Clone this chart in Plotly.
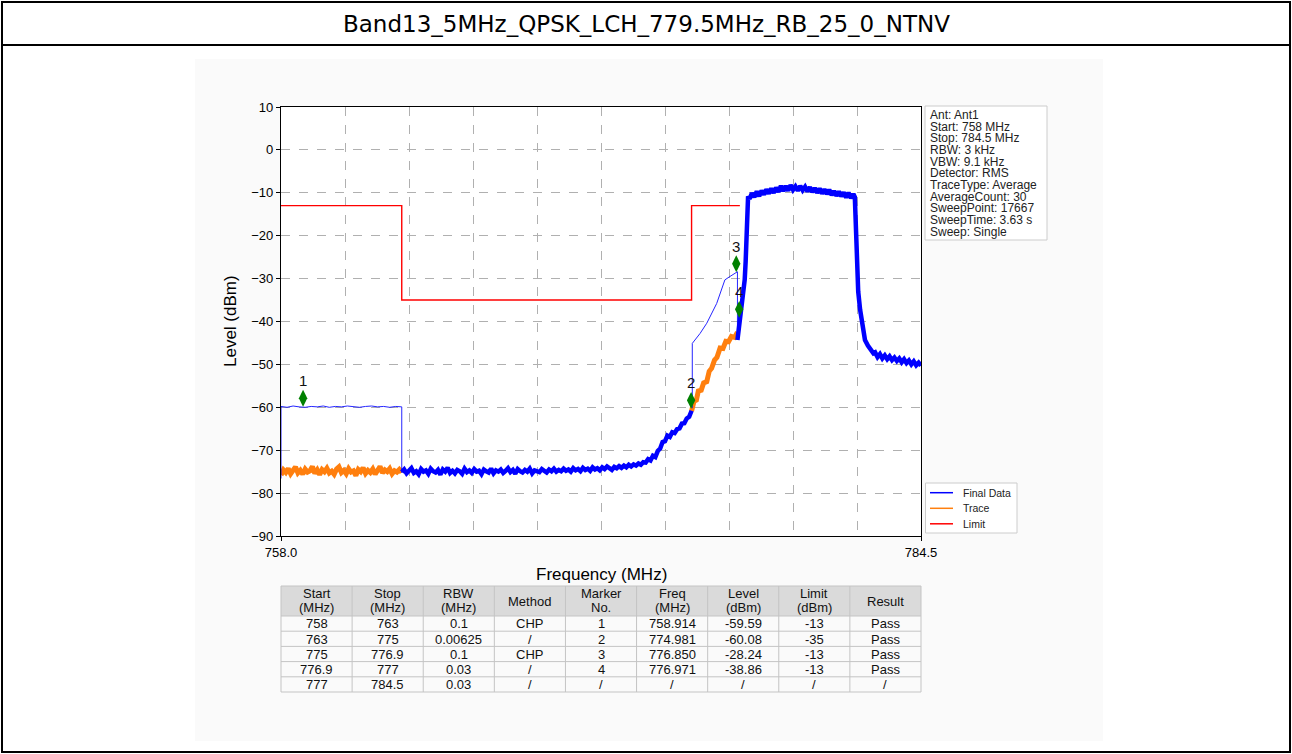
import numpy as np
import plotly.graph_objects as go

W, H = 1292, 754

# ---------------- data ----------------
TITLE = "Band13_5MHz_QPSK_LCH_779.5MHz_RB_25_0_NTNV"
F_START, F_STOP = 758.0, 784.5

# Trace (orange), 758 - 763 MHz noise floor
trace_left_vals = [
    -75.8, -74.6, -75.2, -74.3, -75.5, -74.9, -73.9, -75.3, -74.7, -75.6,
    -74.4, -75.1, -74.8, -73.8, -75.4, -74.6, -75.7, -74.5, -75.0, -74.2,
    -75.3, -74.9, -75.6, -74.4, -73.9, -75.2, -74.7, -75.5, -74.3, -75.1,
    -74.8, -75.9, -74.5, -75.0, -74.1, -75.4, -74.7, -75.2, -74.4, -75.6,
    -74.9, -73.8, -75.3, -74.6, -75.0, -74.3, -75.5, -74.8, -75.1, -74.5,
    -75.2]
# Trace (orange), 775 - 776.9 MHz
trace_right_freq = [775.0, 775.1, 775.2, 775.28, 775.4, 775.5, 775.63, 775.73, 775.83,
                    775.95, 776.05, 776.18, 776.3, 776.42, 776.53, 776.65, 776.78, 776.9]
trace_right_vals = [-60.9, -58.6, -58.3, -56.2, -56.0, -54.3, -54.0, -51.6, -50.9,
                    -49.0, -48.4, -46.2, -46.3, -44.6, -44.7, -43.5, -43.7, -42.5]

# Final Data (blue), 763 - 775 MHz
final_mid_vals = [
    -75.1, -74.5, -75.4, -74.8, -74.2, -75.3, -74.9, -75.6, -74.4, -75.0,
    -74.7, -75.5, -74.3, -74.9, -75.2, -74.6, -75.7, -74.5, -75.0, -74.1,
    -75.3, -74.8, -75.4, -74.6, -74.9, -75.5, -74.3, -75.1, -74.7, -75.3,
    -74.4, -75.0, -74.8, -75.6, -74.5, -74.9, -75.2, -74.3, -75.4, -74.7,
    -75.0, -74.5, -75.3, -74.8, -74.2, -75.1, -74.6, -75.5, -74.4, -74.9,
    -75.2, -74.6, -75.0, -74.3, -75.4, -74.7, -74.9, -75.1, -74.4, -74.8,
    -75.2, -74.5, -74.9, -74.3, -75.0, -74.6,
    -74.9, -74.3, -74.8, -74.5, -75.0, -74.2, -74.7, -74.4, -74.9, -74.1,
    -74.6, -74.3, -74.8, -74.0, -74.5, -74.2, -74.7, -74.0, -74.4, -73.8,
    -74.3, -74.6, -73.9, -74.2, -73.7, -74.1, -73.6, -74.0, -73.4, -73.8,
    -73.3, -73.6, -73.1, -73.4, -72.8,
    -72.9, -72.1, -72.4, -71.3, -71.6, -70.2, -69.6, -68.1, -67.9, -66.6,
    -66.9, -65.8, -66.0, -65.1, -64.9, -63.8, -63.7, -62.6, -62.2, -60.8]

# Final Data (blue), 776.9 - 784.5 MHz: rising edge, plateau, falling edge, tail
final_rise_freq = [776.90, 776.95, 777.00, 777.06, 777.13, 777.20, 777.24, 777.27, 777.31, 777.34]
final_rise_vals = [-44.3, -42.0, -39.6, -37.3, -34.0, -30.3, -26.0, -22.5, -14.8, -10.8]
final_plateau_vals = [
    -11.4, -10.1, -11.0, -9.7, -10.8, -9.5, -10.4, -9.2, -10.2, -9.0,
    -10.0, -8.8, -9.8, -8.4, -9.6, -8.4, -9.5, -8.2, -9.3, -8.5,
    -9.5, -8.4, -9.4, -8.6, -9.7, -8.7, -9.8, -8.9, -10.0, -9.0,
    -10.2, -9.2, -10.3, -9.3, -10.5, -9.6, -10.7, -9.7, -10.8, -9.9,
    -11.1, -10.0, -11.2, -10.3]
final_fall_freq = [781.76, 781.8, 781.84, 781.9, 781.98, 782.08, 782.18, 782.3, 782.42, 782.53]
final_fall_vals = [-11.0, -18.0, -28.0, -33.0, -37.3, -41.0, -44.3, -45.6, -46.8, -47.4]
final_tail_vals = [
    -47.2, -48.3, -47.6, -48.6, -47.9, -48.8, -48.1, -49.0, -48.4, -49.2,
    -48.6, -49.5, -48.8, -49.7, -49.1, -50.0, -49.3, -50.2, -49.6, -50.3]

# Final Data (blue) channel-power steps
chp1_vals = [-59.8, -60.0, -59.7, -59.9, -60.0, -59.8, -59.9, -59.7, -60.0, -59.8,
             -59.9, -59.7, -59.9, -60.0, -59.8, -59.7, -59.9, -59.8, -60.0, -59.8, -59.9]
chp3_freq = [775.03, 775.03, 775.35, 775.63, 776.04, 776.38, 776.59, 776.87, 776.9, 776.9]
chp3_vals = [-60.2, -45.1, -42.8, -40.4, -35.8, -30.3, -29.5, -28.4, -28.4, -44.0]

# Limit line
limit_freq = [758, 763, 763, 775, 775, 777]
limit_vals = [-13, -13, -35, -35, -13, -13]

# Markers
marker_no = ["1", "2", "3", "4"]
marker_freq = [758.914, 774.981, 776.850, 776.971]
marker_level = [-59.59, -60.08, -28.24, -38.86]
MARKER_DRAW_OFFSET = 1.7

# Info text
info_lines = ["Ant: Ant1", "Start: 758 MHz", "Stop: 784.5 MHz", "RBW: 3 kHz", "VBW: 9.1 kHz",
              "Detector: RMS", "TraceType: Average", "AverageCount: 30", "SweepPoint: 17667",
              "SweepTime: 3.63 s", "Sweep: Single"]

# Table
tbl_header = [["Start", "(MHz)"], ["Stop", "(MHz)"], ["RBW", "(MHz)"], ["Method"],
              ["Marker", "No."], ["Freq", "(MHz)"], ["Level", "(dBm)"], ["Limit", "(dBm)"],
              ["Result"]]
tbl_start = ["758", "763", "775", "776.9", "777"]
tbl_stop = ["763", "775", "776.9", "777", "784.5"]
tbl_rbw = ["0.1", "0.00625", "0.1", "0.03", "0.03"]
tbl_method = ["CHP", "/", "CHP", "/", "/"]
tbl_marker = ["1", "2", "3", "4", "/"]
tbl_freq = ["758.914", "774.981", "776.850", "776.971", "/"]
tbl_level = ["-59.59", "-60.08", "-28.24", "-38.86", "/"]
tbl_limit = ["-13", "-35", "-13", "-13", "/"]
tbl_result = ["Pass", "Pass", "Pass", "Pass", "/"]
tbl_columns = [tbl_start, tbl_stop, tbl_rbw, tbl_method, tbl_marker,
               tbl_freq, tbl_level, tbl_limit, tbl_result]

legend_names = ["Final Data", "Trace", "Limit"]
legend_colors = ["#0000ff", "#ff7f0e", "#ff0000"]

# ---------------- helpers ----------------
def px(x):
    return x / W

def py(y):
    return 1 - y / H

PL, PR, PT, PB = 281, 921, 107, 536
FONT = "Liberation Sans, Arial, sans-serif"

fig = go.Figure()

# Orange trace (thick noise)
o_x = list(np.linspace(758.0, 763.0, len(trace_left_vals))) + [None] + trace_right_freq
o_y = trace_left_vals + [None] + trace_right_vals
fig.add_trace(go.Scatter(x=o_x, y=o_y, mode="lines", line=dict(color="#ff7f0e", width=5),
                         showlegend=False, hoverinfo="skip"))

# Blue thick final data
b_x = (list(np.linspace(763.0, 775.0, len(final_mid_vals))) + [None]
       + final_rise_freq + list(np.linspace(777.4, 781.7, len(final_plateau_vals)))
       + final_fall_freq + list(np.linspace(782.6, 784.5, len(final_tail_vals))))
b_y = (final_mid_vals + [None] + final_rise_vals + final_plateau_vals
       + final_fall_vals + final_tail_vals)
fig.add_trace(go.Scatter(x=b_x, y=b_y, mode="lines", line=dict(color="#0000ff", width=4.5),
                         showlegend=False, hoverinfo="skip"))

# Blue thin CHP lines
c_x = [758.0] + list(np.linspace(758.0, 763.0, len(chp1_vals))) + [763.0, None] + chp3_freq
c_y = [-76.6] + chp1_vals + [-75.3, None] + chp3_vals
fig.add_trace(go.Scatter(x=c_x, y=c_y, mode="lines", line=dict(color="#0000ff", width=1),
                         opacity=0.85, showlegend=False, hoverinfo="skip"))

# Limit
fig.add_trace(go.Scatter(x=limit_freq, y=limit_vals, mode="lines",
                         line=dict(color="#ff0000", width=1.4), showlegend=False))

# Markers
fig.add_trace(go.Scatter(x=marker_freq, y=[v + MARKER_DRAW_OFFSET for v in marker_level],
                         mode="markers+text", text=marker_no, textposition="top center",
                         textfont=dict(family=FONT, size=15, color="#111111"),
                         marker=dict(symbol="diamond-tall", size=12, color="#008000"),
                         showlegend=False))

shapes = []
annotations = []
# light figure background and white plot area
shapes.append(dict(type="rect", xref="paper", yref="paper", x0=px(195), x1=px(1103),
                   y0=py(741), y1=py(59), fillcolor="#fafafa", line=dict(width=0), layer="below"))
shapes.append(dict(type="rect", xref="paper", yref="paper", x0=px(PL), x1=px(PR),
                   y0=py(PB), y1=py(PT), fillcolor="white", line=dict(width=0), layer="below"))
# outer frame
shapes.append(dict(type="rect", xref="paper", yref="paper", x0=px(2), x1=px(1290),
                   y0=py(752), y1=py(2), line=dict(color="black", width=2)))
shapes.append(dict(type="line", xref="paper", yref="paper", x0=px(2), x1=px(1290),
                   y0=py(45), y1=py(45), line=dict(color="black", width=2)))
# info box
shapes.append(dict(type="rect", xref="paper", yref="paper", x0=px(925), x1=px(1047),
                   y0=py(240), y1=py(106), fillcolor="white",
                   line=dict(color="#cccccc", width=1)))
# legend box
shapes.append(dict(type="rect", xref="paper", yref="paper", x0=px(925.5), x1=px(1017),
                   y0=py(533), y1=py(483), fillcolor="white",
                   line=dict(color="#cccccc", width=1)))
leg_y = [492.7, 508.3, 523.8]
for yy, col in zip(leg_y, legend_colors):
    shapes.append(dict(type="line", xref="paper", yref="paper", x0=px(930), x1=px(953),
                       y0=py(yy), y1=py(yy), line=dict(color=col, width=1.5)))

# ---- table (drawn as cells) ----
T_L, T_R, T_TOP, T_HB = 281, 921, 586, 616
ROW_H = 15.2
ncol = len(tbl_columns)
nrow = len(tbl_start)
col_w = (T_R - T_L) / ncol
T_BOT = T_HB + nrow * ROW_H
shapes.append(dict(type="rect", xref="paper", yref="paper", x0=px(T_L), x1=px(T_R),
                   y0=py(T_HB), y1=py(T_TOP), fillcolor="#dadada", line=dict(width=0)))
grid_col = "#c4c4c4"
for r in range(nrow + 2):
    yy = T_TOP if r == 0 else T_HB + (r - 1) * ROW_H
    shapes.append(dict(type="line", xref="paper", yref="paper", x0=px(T_L), x1=px(T_R),
                       y0=py(yy), y1=py(yy), line=dict(color=grid_col, width=1)))
for c in range(ncol + 1):
    xx = T_L + c * col_w
    shapes.append(dict(type="line", xref="paper", yref="paper", x0=px(xx), x1=px(xx),
                       y0=py(T_BOT), y1=py(T_TOP), line=dict(color=grid_col, width=1)))
for c in range(ncol):
    cx = T_L + (c + 0.5) * col_w
    hdr = tbl_header[c]
    if len(hdr) == 1:
        hdr_y = [(T_TOP + T_HB) / 2]
    else:
        hdr_y = [593.5, 607.5]
    for txt, yy in zip(hdr, hdr_y):
        annotations.append(dict(text=txt, x=px(cx), y=py(yy), xref="paper", yref="paper",
                                showarrow=False, xanchor="center", yanchor="middle",
                                font=dict(family=FONT, size=13, color="#111111")))
    for r in range(nrow):
        annotations.append(dict(text=tbl_columns[c][r], x=px(cx),
                                y=py(T_HB + (r + 0.5) * ROW_H + 0.3),
                                xref="paper", yref="paper", showarrow=False, xanchor="center",
                                yanchor="middle", font=dict(family=FONT, size=13, color="#111111")))

annotations.append(dict(text=TITLE, x=px(646), y=py(24), xref="paper", yref="paper",
                        showarrow=False, xanchor="center", yanchor="middle",
                        font=dict(family="DejaVu Sans, sans-serif", size=23, color="black")))
annotations.append(dict(text="Frequency (MHz)", x=px(601), y=py(574), xref="paper", yref="paper",
                        showarrow=False, xanchor="center", yanchor="middle",
                        font=dict(family=FONT, size=17, color="black")))
annotations.append(dict(text="Level (dBm)", x=px(230), y=py(321), xref="paper", yref="paper",
                        showarrow=False, xanchor="center", yanchor="middle", textangle=-90,
                        font=dict(family=FONT, size=17, color="black")))
for i, line in enumerate(info_lines):
    annotations.append(dict(text=line, x=px(928), y=py(115 + i * 11.67), xref="paper",
                            yref="paper", showarrow=False, xanchor="left", yanchor="middle",
                            font=dict(family=FONT, size=12, color="#222222")))
for yy, name in zip(leg_y, legend_names):
    annotations.append(dict(text=name, x=px(961), y=py(yy), xref="paper", yref="paper",
                            showarrow=False, xanchor="left", yanchor="middle",
                            font=dict(family=FONT, size=10.5, color="#222222")))

x_ticks = [F_START + k * (F_STOP - F_START) / 10 for k in range(11)]

fig.update_layout(
    width=W, height=H, autosize=False,
    margin=dict(l=0, r=0, t=0, b=0, pad=0, autoexpand=False),
    paper_bgcolor="white", plot_bgcolor="white",
    shapes=shapes, annotations=annotations, showlegend=False,
    xaxis=dict(domain=[px(PL), px(PR)], range=[F_START, F_STOP], automargin=False,
               tickvals=[F_START, F_STOP], ticktext=["758.0", "784.5"],
               showgrid=False, showline=True, linecolor="black", linewidth=1.2, mirror=True,
               ticks="outside", ticklen=4, tickcolor="black", zeroline=False,
               minor=dict(tickvals=x_ticks[1:-1], showgrid=True, gridcolor="#b0b0b0",
                          griddash="dash", gridwidth=0.8, ticks=""),
               tickfont=dict(family=FONT, size=13, color="black")),
    yaxis=dict(domain=[py(PB), py(PT)], range=[-90, 10], tickvals=list(range(-90, 11, 10)),
               automargin=False,
               showgrid=True, gridcolor="#b0b0b0", griddash="dash", gridwidth=0.8,
               showline=True, linecolor="black", linewidth=1.2, mirror=True,
               ticks="outside", ticklen=4, tickcolor="black", zeroline=False,
               tickfont=dict(family=FONT, size=13, color="black")),
)

fig.write_html("out.html", config={"displayModeBar": False},
               post_script="document.body.style.margin='0px';document.body.style.overflow='hidden';")
